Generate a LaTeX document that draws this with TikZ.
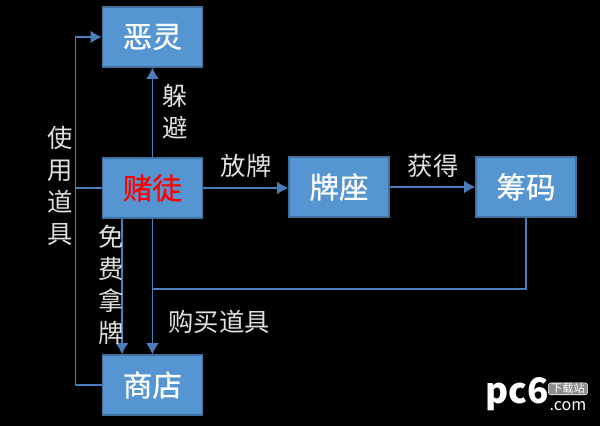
\documentclass[tikz,border=0pt]{standalone}
\usepackage{fontspec}
\setmainfont{Noto Sans CJK SC}
\newfontfamily\blockfont[FakeBold=0.6]{Noto Sans CJK SC}
\usetikzlibrary{arrows.meta}
\definecolor{boxblue}{HTML}{5596D2}
\definecolor{boxedge}{HTML}{41719C}
\definecolor{linkblue}{HTML}{4A7EBB}
\tikzset{block/.style={draw=boxedge,fill=boxblue,line width=0.8pt,minimum width=2.5cm,minimum height=1.5cm,inner sep=0pt,text=white,font=\blockfont\fontsize{21}{24}\selectfont}}
\tikzset{link/.style={linkblue,line width=1pt}}
\tikzset{linkarrow/.style={link,-{Latex[length=8pt,width=9pt]}}}
\tikzset{tag/.style={text=black!12,inner sep=0pt,align=center,font=\fontsize{18}{22.8}\selectfont}}

\begin{document}
\begin{tikzpicture}
    \fill[black] (0,0) rectangle (15,10.65);
    \useasboundingbox (0,0) rectangle (15,10.65);
    \node[block] (eling) at (3.81,9.725) {恶灵};
    \node[block,text=red] (dutu) at (3.81,5.95) {赌徒};
    \node[block] (paizuo) at (8.475,5.975) {牌座};
    \node[block] (chouma) at (13.15,5.975) {筹码};
    \node[block] (shangdian) at (3.81,1.025) {商店};
    \coordinate (daoju) at (1.89,5.95);
    \coordinate (napai) at (3.05,3.5);
    \coordinate (huilu) at (3.81,3.425);
    \draw[link] (dutu.west) -- (daoju);
    \draw[linkarrow] (shangdian.west) -| (daoju) |- (eling.west);
    \draw[linkarrow] (dutu.north) -- (eling.south);
    \draw[linkarrow] (dutu.east) -- (dutu.east -| paizuo.west);
    \draw[linkarrow] (paizuo.east) -- (chouma.west);
    \draw[linkarrow] (dutu.south -| napai) -- (shangdian.north -| napai);
    \draw[linkarrow] (dutu.south) -- (shangdian.north);
    \draw[link] (chouma.south) |- (huilu);
    \node[tag] (shiyong) at (1.5,6) {使\\用\\道\\具};
    \node[tag] (duobi) at (4.375,7.85) {躲\\避};
    \node[tag] (mianfei) at (2.78,3.525) {免\\费\\拿\\牌};
    \node[tag] (fangpai) at (6.15,6.5) {放牌};
    \node[tag] (huode) at (10.83,6.5) {获得};
    \node[tag] (goumai) at (5.475,2.6) {购买道具};
    % logo
    \node[text=white,inner sep=0pt,font=\fontsize{25}{25}\selectfont\bfseries] (logo) at (12.92,0.8) {pc6};
    \node[draw=white,fill=black!45,rounded corners=2pt,text=white,inner xsep=2pt,inner ysep=0.5pt,text height=6.5pt,text depth=1pt,font=\fontsize{8}{8}\selectfont] (xiazai) at (14.2,0.93) {下载站};
    \node[text=white,inner sep=0pt,font=\fontsize{11.5}{11.5}\selectfont] (com) at (14.2,0.5) {.com};
\end{tikzpicture}
\end{document}
